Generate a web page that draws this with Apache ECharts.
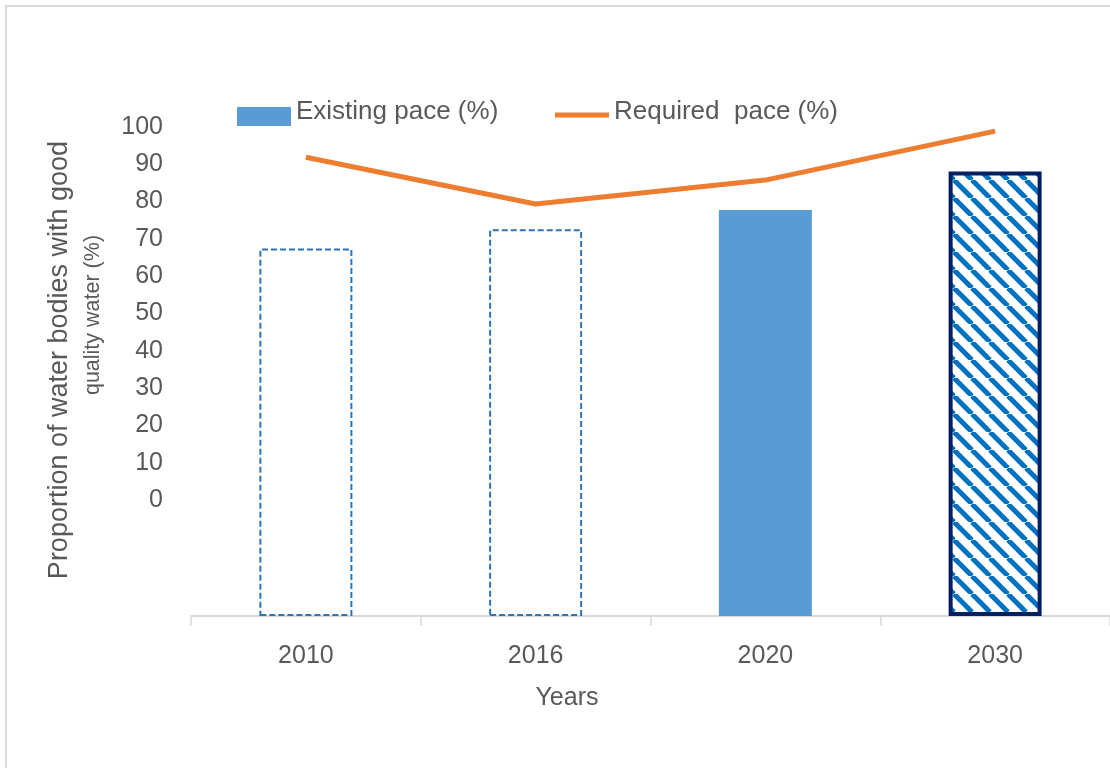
<!DOCTYPE html>
<html>
<head>
<meta charset="utf-8">
<script src="https://cdn.jsdelivr.net/npm/echarts@6/dist/echarts.min.js"></script>
<style>
  html, body { margin: 0; padding: 0; background: #fff; }
  #frame { position: absolute; left: 5px; top: 5px; width: 1200px; height: 900px; border: 2px solid #D9D9D9; box-sizing: border-box; }
  #chart { position: absolute; left: 0; top: 0; width: 1110px; height: 768px; }
</style>
</head>
<body>
<div id="frame"></div>
<div id="chart"></div>
<script>
// ---- data ----
const categories = ['2010', '2016', '2020', '2030'];
const existingPace = [67.4, 72.5, 77.7, 88.0];
const requiredPace = [91.8, 79.3, 85.7, 98.8];
const yTickLabels = [0, 10, 20, 30, 40, 50, 60, 70, 80, 90, 100];
const seriesNames = ['Existing pace (%)', 'Required  pace (%)'];
const xTitle = 'Years';
const yTitleLines = ['Proportion of water bodies with good', 'quality water (%)'];

// axis extent: bottom of plot sits below the 0 label (as in the reference)
const yMax = 100;
const yMin = -31.07;

// stripe pattern for the 2030 bar
function makeStripes() {
  const s = 18;
  const c = document.createElement('canvas');
  c.width = s; c.height = s;
  const ctx = c.getContext('2d');
  ctx.fillStyle = '#ffffff';
  ctx.fillRect(0, 0, s, s);
  ctx.strokeStyle = '#0070C0';
  ctx.lineWidth = 5;
  for (const k of [-s, 0, s]) {
    ctx.beginPath();
    ctx.moveTo(k, 0);
    ctx.lineTo(k + s, s);
    ctx.stroke();
  }
  return c;
}

const textColor = '#595959';
const font = 'Liberation Sans, Arial, sans-serif';

const barStyles = [
  { color: 'rgba(255,255,255,0)', borderColor: '#2E75B6', borderWidth: 2, borderType: [6, 3] },
  { color: 'rgba(255,255,255,0)', borderColor: '#2E75B6', borderWidth: 2, borderType: [6, 3] },
  { color: '#5B9BD5' },
  { color: { image: makeStripes(), repeat: 'repeat' }, borderColor: '#002060', borderWidth: 4 }
];

const legendText = (shift) => ({
  fontSize: 26, color: textColor, fontFamily: font,
  rich: { t: { fontSize: 26, color: textColor, fontFamily: font, padding: [0, 0, shift, 0] } }
});

const chart = echarts.init(document.getElementById('chart'), null, { renderer: 'canvas' });
chart.setOption({
  animation: false,
  textStyle: { fontFamily: font },
  grid: { left: 191, right: -1, top: 126.7, bottom: 152, containLabel: false },
  legend: [
    {
      data: [{ name: seriesNames[0], icon: 'rect' }],
      left: 237, top: 99, padding: 0,
      itemWidth: 54, itemHeight: 19, itemGap: 8,
      formatter: '{t|{name}}',
      textStyle: legendText(9)
    },
    {
      data: [{ name: seriesNames[1], icon: 'rect' }],
      left: 555, top: 99, padding: 0,
      itemWidth: 54, itemHeight: 5, itemGap: 8,
      formatter: '{t|{name}}',
      textStyle: legendText(6)
    }
  ],
  xAxis: {
    type: 'category',
    data: categories,
    boundaryGap: true,
    axisLine: { onZero: false, lineStyle: { color: '#D9D9D9', width: 2 } },
    axisTick: { show: true, alignWithLabel: false, length: 10, lineStyle: { color: '#D9D9D9', width: 1.5 } },
    axisLabel: { fontSize: 25, color: textColor, margin: 28, fontFamily: font }
  },
  yAxis: {
    type: 'value',
    min: yMin,
    max: yMax,
    startValue: yMin,
    splitLine: { show: false },
    axisLine: { show: false },
    axisTick: { show: false },
    axisLabel: { customValues: yTickLabels, fontSize: 25, color: textColor, margin: 28, fontFamily: font }
  },
  graphic: [
    {
      type: 'text', x: 60, y: 360, rotation: Math.PI / 2,
      style: { text: yTitleLines[0], fontSize: 27, fill: textColor, fontFamily: font, align: 'center', verticalAlign: 'middle' }
    },
    {
      type: 'text', x: 93, y: 315, rotation: Math.PI / 2,
      style: { text: yTitleLines[1], fontSize: 21.5, fill: textColor, fontFamily: font, align: 'center', verticalAlign: 'middle' }
    },
    {
      type: 'text', x: 567, y: 698,
      style: { text: xTitle, fontSize: 25, fill: textColor, fontFamily: font, align: 'center', verticalAlign: 'middle' }
    }
  ],
  series: [
    {
      name: seriesNames[0],
      type: 'bar',
      barWidth: 93,
      itemStyle: { color: '#5B9BD5' },
      data: existingPace.map((v, i) => ({ value: v, itemStyle: barStyles[i] })),
      z: 2
    },
    {
      name: seriesNames[1],
      type: 'line',
      data: requiredPace,
      symbol: 'none',
      showSymbol: false,
      itemStyle: { color: '#ED7D31' },
      lineStyle: { color: '#ED7D31', width: 5 },
      z: 3
    }
  ]
});
</script>
</body>
</html>
